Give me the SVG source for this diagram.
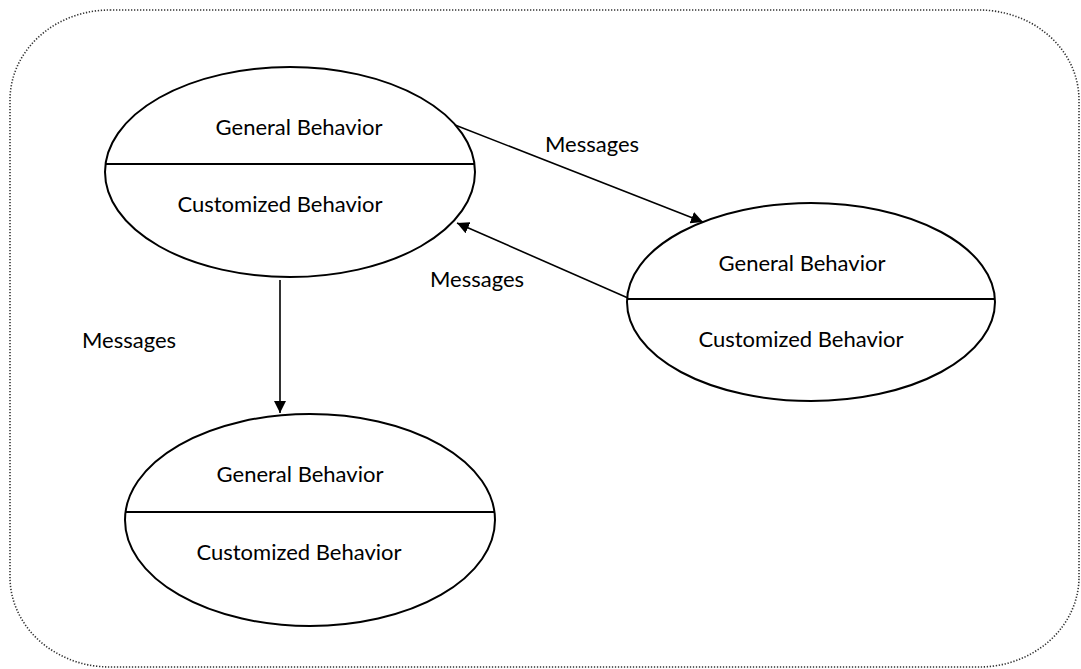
<svg xmlns="http://www.w3.org/2000/svg" width="1081" height="669" viewBox="0 0 1081 669">
<defs>
<marker id="ah" viewBox="0 0 10 10" refX="10" refY="5" markerWidth="12" markerHeight="12" markerUnits="userSpaceOnUse" orient="auto">
<path d="M0,0 L10,5 L0,10 Z" fill="#000"/>
</marker>
<style>
.frame{fill:none;stroke:#333;stroke-width:1.6;stroke-dasharray:1.3 1.7}
.node ellipse{fill:#fff;stroke:#000;stroke-width:2}
.node line{stroke:#000;stroke-width:2}
text{font-family:Lato,"Open Sans","Liberation Sans",sans-serif;font-size:22px;fill:#000;text-anchor:middle}
.conn{stroke:#000;stroke-width:1.6;fill:none;marker-end:url(#ah)}
</style>
</defs>
<rect class="frame" x="10" y="10" width="1069" height="657" rx="100" ry="90"/>
<g id="node-top" class="node">
<ellipse cx="290" cy="172" rx="185" ry="105"/>
<line x1="105" y1="164" x2="475" y2="164"/>
<text x="299" y="135">General Behavior</text>
<text x="280" y="212">Customized Behavior</text>
</g>
<g id="node-right" class="node">
<ellipse cx="811" cy="302" rx="184" ry="99"/>
<line x1="627" y1="299" x2="995" y2="299"/>
<text x="802" y="271">General Behavior</text>
<text x="801" y="347">Customized Behavior</text>
</g>
<g id="node-bottom" class="node">
<ellipse cx="310" cy="520" rx="185" ry="106"/>
<line x1="125" y1="512" x2="494" y2="512"/>
<text x="300" y="482">General Behavior</text>
<text x="299" y="560">Customized Behavior</text>
</g>
<g id="connectors">
<line class="conn" x1="455" y1="125" x2="703" y2="222"/>
<line class="conn" x1="628" y1="298" x2="457" y2="223"/>
<line class="conn" x1="280" y1="280" x2="280" y2="413"/>
<text x="592" y="152">Messages</text>
<text x="477" y="287">Messages</text>
<text x="129" y="348">Messages</text>
</g>
</svg>
